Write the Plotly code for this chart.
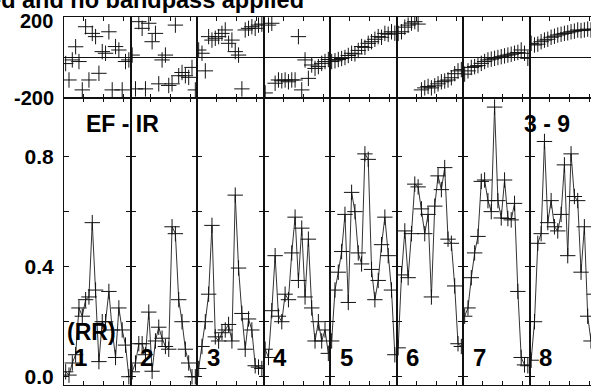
import plotly.graph_objects as go

# channel amplitudes for each IF (20 channels each)
AMP_IF1 = [0.018, 0.006, 0.05, 0.08, 0.25, 0.22, 0.28, 0.29, 0.56, 0.315,
           0.055, 0.2, 0.2, 0.31, 0.17, 0.07, 0.25, 0.17, 0.115, 0.0]
AMP_IF2 = [0.018, 0.05, 0.12, 0.12, 0.08, 0.235, 0.02, 0.13, 0.18, 0.14,
           0.11, 0.1, 0.545, 0.52, 0.28, 0.2, 0.1, 0.05, 0.0, 0.0]
AMP_IF3 = [0.03, 0.11, 0.2, 0.3, 0.55, 0.145, 0.13, 0.16, 0.17, 0.19,
           0.13, 0.66, 0.395, 0.23, 0.1, 0.21, 0.17, 0.04, 0.035, 0.03]
AMP_IF4 = [0.1, 0.07, 0.24, 0.44, 0.22, 0.2, 0.3, 0.28, 0.45, 0.58,
           0.35, 0.54, 0.29, 0.5, 0.25, 0.13, 0.2, 0.13, 0.17, 0.085]
AMP_IF5 = [0.13, 0.315, 0.38, 0.455, 0.59, 0.27, 0.67, 0.6, 0.45, 0.41,
           0.81, 0.79, 0.39, 0.28, 0.35, 0.48, 0.58, 0.44, 0.315, 0.08]
AMP_IF6 = [0.105, 0.37, 0.53, 0.36, 0.52, 0.7, 0.69, 0.61, 0.52, 0.59,
           0.29, 0.62, 0.73, 0.68, 0.76, 0.5, 0.485, 0.33, 0.12, 0.11]
AMP_IF7 = [0.22, 0.25, 0.36, 0.45, 0.51, 0.71, 0.715, 0.64, 0.6, 0.98,
           0.64, 0.577, 0.715, 0.575, 0.57, 0.63, 0.31, 0.07, 0.043, 0.04]
AMP_IF8 = [0.06, 0.2, 0.485, 0.52, 0.855, 0.56, 0.64, 0.545, 0.53, 0.59,
           0.77, 0.44, 0.81, 0.655, 0.64, 0.38, 0.545, 0.22, 0.13, 0.3]

# channel phases (degrees)
PHS_IF1 = [-30, -111, -12, 53, -20, -160, 152, -111, 119, 103,
           -78, 29, 21, 127, -160, 54, 37, -160, -20, -12]
PHS_IF2 = [12, -155, 177, 144, -155, 169, 78, 119, -130, -12,
           12, -138, -130, 160, -90, -74, -90, -98, -49, -160]
PHS_IF3 = [37, 21, -66, 103, 86, 95, 103, 119, 136, 70,
           86, 29, 12, -155, 136, 144, 152, 144, 160, 165]
PHS_IF4 = [-175, 160, 169, -127, -111, -115, -111, -120, -111, -111,
           103, -160, -12, -103, -37, -54, -45, -29, -20, -10]
PHS_IF5 = [-20, -16, -10, -5, 0, 10, 21, 18, 35, 54,
           50, 70, 78, 90, 103, 100, 119, 115, 127, 120]
PHS_IF6 = [119, 127, 150, 160, 170, 177, 165, -160, -150, -143,
           -150, -140, -130, -120, -116, -111, -100, -80, -66, -60]
PHS_IF7 = [-82, -66, -49, -45, -40, -29, -20, -12, -8, -4,
           0, 4, 8, 12, 16, 21, 25, 37, 21, -4]
PHS_IF8 = [70, 62, 66, 78, 86, 90, 100, 105, 111, 115,
           119, 122, 127, 130, 136, 133, 136, 140, 136, 140]

IF_LABELS = ['1', '2', '3', '4', '5', '6', '7', '8']
AMP_TICKS = [0.0, 0.2, 0.4, 0.6, 0.8]
AMP_TICKTEXT = ['0.0', '', '0.4', '', '0.8']
PHS_TICKS = [-200, 0, 200]
PHS_TICKTEXT = ['-200', '', '']   # the top "200" is placed as a label below
CHAN_TICKS = [6, 12, 18]

amps = [AMP_IF1, AMP_IF2, AMP_IF3, AMP_IF4, AMP_IF5, AMP_IF6, AMP_IF7, AMP_IF8]
phases = [PHS_IF1, PHS_IF2, PHS_IF3, PHS_IF4, PHS_IF5, PHS_IF6, PHS_IF7, PHS_IF8]
nchan = len(AMP_IF1)
chans = [c + 0.5 for c in range(nchan)]

W, H = 591, 389
L, R, T, B = 64, 0, 17, 4
PW, PH = W - L - R, H - T - B
PANEL_PX = 66.5
split = (385 - 98) / PH

FONT = 'Liberation Sans, Arial, sans-serif'
INK = '#111111'


def px_x(px):
    return (px - L) / PW


def px_y(py):
    return (H - B - py) / PH


fig = go.Figure()
layout = {}

cross = dict(symbol='cross-thin-open', size=11, color=INK,
             line=dict(color=INK, width=1))

for p in range(8):
    d0 = p * PANEL_PX / PW
    d1 = min((p + 1) * PANEL_PX / PW, 1.0)
    xmax = nchan * (d1 - d0) * PW / PANEL_PX
    last = p == 7
    ia, ip = p + 1, p + 9

    fig.add_trace(go.Scatter(
        x=chans, y=amps[p], mode='lines+markers',
        xaxis=f'x{ia}', yaxis=f'y{ia}', showlegend=False,
        line=dict(color='#333333', width=1), marker=cross,
    ))
    fig.add_trace(go.Scatter(
        x=chans, y=phases[p], mode='markers',
        xaxis=f'x{ip}', yaxis=f'y{ip}', showlegend=False,
        marker=cross,
    ))

    xcommon = dict(domain=[d0, d1], range=[0, xmax], tickvals=CHAN_TICKS,
                   ticks='inside', ticklen=4, tickcolor=INK,
                   showticklabels=False, showgrid=False, zeroline=False,
                   showline=True, linecolor=INK, linewidth=1, mirror='ticks',
                   automargin=False)
    layout[f'xaxis{ia}'] = dict(xcommon, anchor=f'y{ia}')
    layout[f'xaxis{ip}'] = dict(xcommon, anchor=f'y{ip}')

    layout[f'yaxis{ia}'] = dict(
        domain=[0, split], range=[-0.03, 1.013], anchor=f'x{ia}',
        tickvals=AMP_TICKS, ticktext=AMP_TICKTEXT, ticks='inside',
        ticklen=5, tickcolor=INK, showticklabels=(p == 0),
        tickfont=dict(family=FONT, size=21, color='black', weight='bold'),
        ticklabelstandoff=5, automargin=False,
        showgrid=False, zeroline=False, showline=True, linecolor=INK,
        linewidth=1, mirror=(False if last else 'ticks'))
    layout[f'yaxis{ip}'] = dict(
        domain=[split, 1], range=[-200, 200], anchor=f'x{ip}',
        tickvals=PHS_TICKS, ticktext=PHS_TICKTEXT, ticks='inside',
        ticklen=5, tickcolor=INK, showticklabels=(p == 0),
        tickfont=dict(family=FONT, size=20, color='black', weight='bold'),
        ticklabelstandoff=5, automargin=False,
        showgrid=False, zeroline=True, zerolinecolor=INK, zerolinewidth=1,
        showline=True, linecolor=INK, linewidth=1,
        mirror=(False if last else 'ticks'))

annotations = []


def label(text, px, py, size, xanchor='left', yanchor='middle'):
    annotations.append(dict(
        text=text, x=px_x(px), y=px_y(py), xref='paper', yref='paper',
        xanchor=xanchor, yanchor=yanchor, showarrow=False,
        font=dict(family=FONT, size=size, color='black', weight='bold')))


label('Data calibrated and no bandpass applied', 306, 0, 23.5, xanchor='right')
label('200', 55, 21, 20, xanchor='right')
label('EF - IR', 84, 124, 23)
label('3 - 9', 522, 124, 23)
label('(RR)', 65, 332, 23)
for p, name in enumerate(IF_LABELS):
    label(name, L + p * PANEL_PX + 7.5, 357, 24)

fig.update_layout(
    width=W, height=H,
    margin=dict(l=L, r=R, t=T, b=B, autoexpand=False),
    paper_bgcolor='white', plot_bgcolor='white',
    annotations=annotations,
    **layout,
)

# drop the page's default body margin so the figure sits at the window corner
fig.write_html('out.html', config={'displayModeBar': False},
               post_script="document.body.style.margin = '0';")
